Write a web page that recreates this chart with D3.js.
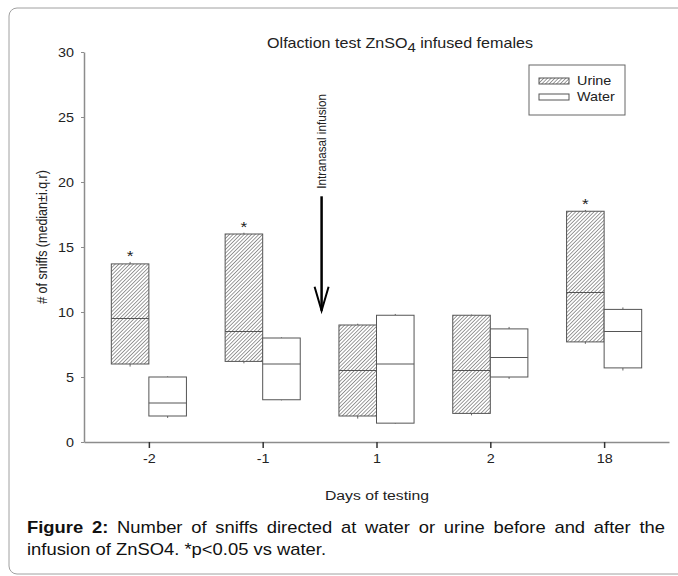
<!DOCTYPE html>
<html lang="en">
<head>
    <meta charset="UTF-8">
    <title>olfaction test</title>
    <script src="https://cdn.jsdelivr.net/npm/d3@7/dist/d3.min.js"></script>
    <style>
        body { margin: 0; background: #fff; }
        svg { display: block; font-family: "Liberation Sans", Arial, sans-serif; }
        svg .frame { fill: none; stroke: #a0a0a0; stroke-width: 1; }
        svg .box { stroke: #555; stroke-width: 1; }
        svg .median { stroke: #555; stroke-width: 1; }
        svg .whisk { stroke: #666; stroke-width: 1; }
        svg .y-axis path, svg .x-axis path { stroke: #8c8c8c; stroke-width: 1.5; }
        svg .y-axis line { stroke: #8c8c8c; }
        svg .x-axis line { stroke: #333; stroke-width: 1.5; }
        svg .tick text { fill: #222; }
    </style>
</head>
<body>
<svg width="678" height="576"></svg>
<script>
    // data
    var days = ['-2', '-1', '1', '2', '18'];
    var urineQ1  = [6.0, 6.2, 2.0, 2.2, 7.7];
    var urineMed = [9.5, 8.5, 5.5, 5.5, 11.5];
    var urineQ3  = [13.7, 16.0, 9.0, 9.75, 17.75];
    var urineLo  = [5.8, 6.05, 1.8, 2.05, 7.55];
    var urineHi  = [13.85, 16.1, 9.1, 9.8, 17.85];
    var waterQ1  = [2.0, 3.25, 1.45, 5.0, 5.7];
    var waterMed = [3.0, 6.0, 6.0, 6.5, 8.5];
    var waterQ3  = [5.0, 8.0, 9.75, 8.7, 10.2];
    var waterLo  = [1.85, 3.2, 1.4, 4.85, 5.5];
    var waterHi  = [5.05, 8.05, 9.85, 8.85, 10.35];
    var starDays = ['-2', '-1', '18'];
    var yTicks = [0, 5, 10, 15, 20, 25, 30];
    var arrowTop = 18.9, arrowTip = 10.1;

    var sx = 1.15; // picture is a little stretched sideways

    var svg = d3.select('svg');

    var x = d3.scalePoint().domain(days).range([84, 669]).padding(0.57),
        y = d3.scaleLinear().domain([0, 30]).range([442, 52]),
        bw = x.step() * 0.33;

    // frame
    svg.append('rect').classed('frame', true)
        .attr('x', 9).attr('y', 8).attr('width', 700).attr('height', 566).attr('rx', 8);

    // hatch
    var pat = svg.append('defs').append('pattern')
        .attr('id', 'hatch').attr('patternUnits', 'userSpaceOnUse')
        .attr('width', 2.6).attr('height', 2.6)
        .attr('patternTransform', 'rotate(45)');
    pat.append('rect').attr('width', 2.6).attr('height', 2.6).attr('fill', '#fff');
    pat.append('line').attr('x1', 0).attr('y1', 0).attr('x2', 0).attr('y2', 2.6)
        .attr('stroke', '#3a3a3a').attr('stroke-width', 1);

    function stretchText(g, tx, ty, str, size, anchor) {
        return g.append('text')
            .attr('transform', 'translate(' + tx + ',' + ty + ') scale(' + sx + ',1)')
            .attr('text-anchor', anchor || 'start')
            .attr('font-size', size)
            .attr('fill', '#222')
            .text(str);
    }

    // axes
    var yAxis = svg.append('g').classed('y-axis', true)
        .attr('transform', 'translate(84,0)')
        .call(d3.axisLeft(y).tickValues(yTicks).tickSize(3).tickSizeOuter(0));
    yAxis.selectAll('text')
        .attr('font-size', 12.5)
        .attr('x', -10 / sx)
        .attr('transform', 'scale(' + sx + ',1)');

    var xAxis = svg.append('g').classed('x-axis', true)
        .attr('transform', 'translate(0,442)')
        .call(d3.axisBottom(x).tickSize(6).tickSizeOuter(0));
    xAxis.selectAll('text')
        .attr('font-size', 12.5)
        .attr('y', 12)
        .attr('transform', 'scale(' + sx + ',1)');

    // boxes
    function drawBoxes(cls, q1, med, q3, lo, hi, dx, fill) {
        var g = svg.append('g').classed(cls, true);
        days.forEach(function(d, i) {
            var left = x(d) + dx, cx = left + bw / 2;
            g.append('line').classed('whisk', true)
                .attr('x1', cx).attr('x2', cx).attr('y1', y(q3[i])).attr('y2', y(hi[i]));
            g.append('line').classed('whisk', true)
                .attr('x1', cx).attr('x2', cx).attr('y1', y(q1[i])).attr('y2', y(lo[i]));
            g.append('rect').classed('box', true)
                .attr('x', left).attr('y', y(q3[i]))
                .attr('width', bw).attr('height', y(q1[i]) - y(q3[i]))
                .attr('fill', fill);
            g.append('line').classed('median', true)
                .attr('x1', left).attr('x2', left + bw)
                .attr('y1', y(med[i])).attr('y2', y(med[i]));
        });
    }
    drawBoxes('urine', urineQ1, urineMed, urineQ3, urineLo, urineHi, -bw, 'url(#hatch)');
    drawBoxes('water', waterQ1, waterMed, waterQ3, waterLo, waterHi, 0, '#fff');

    // significance stars
    starDays.forEach(function(d) {
        var i = days.indexOf(d);
        stretchText(svg, x(d) - bw / 2, y(urineHi[i]) - 1, '*', 15, 'middle');
    });

    // infusion arrow
    var ax = (x('-1') + x('1')) / 2 + 2;
    svg.append('line')
        .attr('x1', ax).attr('x2', ax).attr('y1', y(arrowTop)).attr('y2', y(arrowTip))
        .attr('stroke', '#000').attr('stroke-width', 2.5);
    svg.append('path')
        .attr('d', 'M' + (ax - 7) + ',' + (y(arrowTip) - 24) + 'L' + ax + ',' + y(arrowTip) +
            'L' + (ax + 7) + ',' + (y(arrowTip) - 24))
        .attr('fill', 'none').attr('stroke', '#000').attr('stroke-width', 2);
    svg.append('text')
        .attr('transform', 'translate(' + ax + ',' + (y(arrowTop) - 55) + ') scale(' + sx + ',1) rotate(-90)')
        .attr('text-anchor', 'middle').attr('dy', '0.35em')
        .attr('font-size', 11.7).attr('fill', '#222')
        .text('Intranasal infusion');

    // title
    var title = stretchText(svg, 400, 48, '', 14, 'middle');
    title.append('tspan').text('Olfaction test ZnSO');
    title.append('tspan').attr('dy', 4).attr('font-size', 13).text('4');
    title.append('tspan').attr('dy', -4).text(' infused females');

    // axis titles
    svg.append('text')
        .attr('transform', 'translate(42,237) scale(' + sx + ',1) rotate(-90)')
        .attr('text-anchor', 'middle').attr('dy', '0.35em')
        .attr('font-size', 12.5).attr('fill', '#222')
        .text('# of sniffs (median\u00b1i.q.r)');
    stretchText(svg, 377, 500, 'Days of testing', 13.7, 'middle');

    // legend
    var leg = svg.append('g');
    leg.append('rect').attr('x', 529).attr('y', 65).attr('width', 96).attr('height', 50)
        .attr('fill', '#fff').attr('stroke', '#666');
    var legItems = ['Urine', 'Water'];
    legItems.forEach(function(name, i) {
        leg.append('rect').attr('x', 539).attr('y', 78 + i * 16).attr('width', 30).attr('height', 6)
            .attr('fill', i === 0 ? 'url(#hatch)' : '#fff').attr('stroke', '#555');
        stretchText(leg, 577, 85 + i * 16, name, 12.5);
    });

    // caption
    var cap1 = svg.append('text')
        .attr('transform', 'translate(27,533) scale(' + sx + ',1)')
        .attr('font-size', 16).attr('fill', '#111');
    cap1.append('tspan').attr('font-weight', 'bold').text('Figure 2:');
    cap1.append('tspan').text(' Number of sniffs directed at water or urine before and after the');
    var natural = cap1.node().getComputedTextLength(),
        spaces = 13,
        extra = (665 - 27) / sx - natural;
    cap1.attr('word-spacing', extra / spaces);

    svg.append('text')
        .attr('transform', 'translate(27,555) scale(' + sx + ',1)')
        .attr('font-size', 16).attr('fill', '#111')
        .text('infusion of ZnSO4. *p<0.05 vs water.');
</script>
</body>
</html>
